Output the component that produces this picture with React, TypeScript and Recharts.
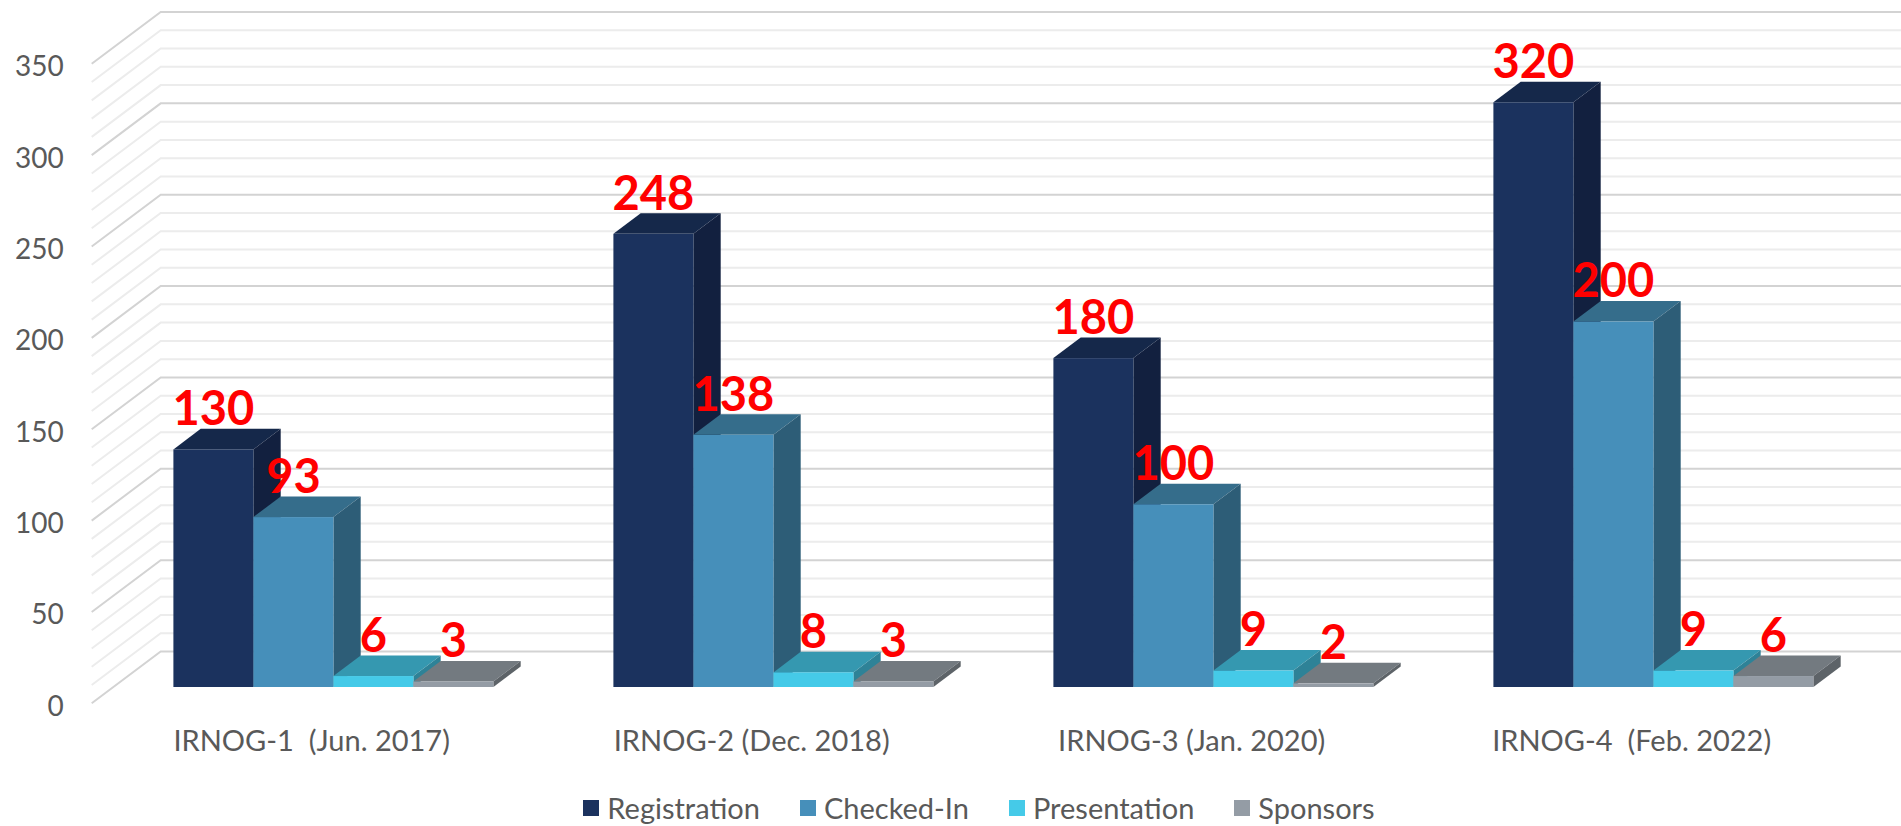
import { Bar, BarChart, CartesianGrid, LabelList, Legend, XAxis, YAxis } from "recharts";

const events = [
  "IRNOG-1  (Jun. 2017)",
  "IRNOG-2 (Dec. 2018)",
  "IRNOG-3 (Jan. 2020)",
  "IRNOG-4  (Feb. 2022)",
];
const registration = [130, 248, 180, 320];
const checkedIn = [93, 138, 100, 200];
const presentation = [6, 8, 9, 9];
const sponsors = [3, 3, 2, 6];

const yTicks = [0, 50, 100, 150, 200, 250, 300, 350];
const minorLines = [
  10, 20, 30, 40, 60, 70, 80, 90, 110, 120, 130, 140, 160, 170, 180, 190, 210, 220, 230,
  240, 260, 270, 280, 290, 310, 320, 330, 340,
];

const SERIES = [
  { key: "registration", name: "Registration", front: "#1b325e", top: "#15284a", side: "#12203f" },
  { key: "checkedIn", name: "Checked-In", front: "#468fba", top: "#356d8b", side: "#2d5d77" },
  { key: "presentation", name: "Presentation", front: "#45cae8", top: "#3598b0", side: "#2e8297" },
  { key: "sponsors", name: "Sponsors", front: "#949ca5", top: "#737a80", side: "#5d6368" },
];

const data = events.map((name, i) => ({
  name,
  registration: registration[i],
  checkedIn: checkedIn[i],
  presentation: presentation[i],
  sponsors: sponsors[i],
}));

const W = 1901;
const H = 826;
const PLOT_LEFT = 113.4;
const FONT = "Lato, 'Liberation Sans', sans-serif";
const TEXT = "#595959";

// oblique "3d" offsets
const BAR_DX = 27.3;
const BAR_DY = 20.6;
const FRONT_DX = -21.7;
const FRONT_DY = 16.3;
const BACK_DX = 47.3;
const BACK_DY = -35.5;

function wallLine(color: string) {
  return (props: any) => {
    const { x1, y1 } = props;
    const d = `M${x1 + FRONT_DX},${y1 + FRONT_DY} L${x1 + BACK_DX},${y1 + BACK_DY} L${W},${y1 + BACK_DY}`;
    return <path key={`wall-${y1}`} d={d} stroke={color} strokeWidth={2} fill="none" />;
  };
}

function Box3D({ x, y, width, height, s }: any) {
  if (height == null || width == null) return null;
  const r = x + width;
  const b = y + height;
  return (
    <g>
      <path d={`M${x},${y} L${x + BAR_DX},${y - BAR_DY} L${r + BAR_DX},${y - BAR_DY} L${r},${y} Z`} fill={s.top} />
      <path d={`M${r},${y} L${r + BAR_DX},${y - BAR_DY} L${r + BAR_DX},${b - BAR_DY} L${r},${b} Z`} fill={s.side} />
      <rect x={x} y={y} width={width} height={height} fill={s.front} />
    </g>
  );
}

function ValueLabel({ x, y, width, value }: any) {
  return (
    <text
      x={x + width / 2}
      y={y - BAR_DY - 3.5}
      textAnchor="middle"
      fill="#ff0000"
      fontSize={47}
      fontWeight={700}
      fontFamily={FONT}
    >
      {value}
    </text>
  );
}

function YTick({ y, payload }: any) {
  return (
    <text
      x={PLOT_LEFT + FRONT_DX - 28}
      y={y + FRONT_DY + 1.5}
      textAnchor="end"
      dominantBaseline="central"
      fill={TEXT}
      fontSize={28}
      fontFamily={FONT}
    >
      {payload.value}
    </text>
  );
}

function XTick({ x, payload }: any) {
  return (
    <text
      x={x + FRONT_DX}
      y={751}
      textAnchor="middle"
      fill={TEXT}
      fontSize={29}
      fontFamily={FONT}
      style={{ whiteSpace: "pre" }}
    >
      {payload.value}
    </text>
  );
}

function LegendRow() {
  return (
    <div
      style={{
        display: "flex",
        justifyContent: "center",
        gap: 40,
        fontFamily: FONT,
        fontSize: 29,
        lineHeight: "35px",
        color: TEXT,
      }}
    >
      {SERIES.map((s) => (
        <div key={s.key} style={{ display: "flex", alignItems: "center", gap: 8 }}>
          <span style={{ width: 16, height: 16, background: s.front, display: "inline-block" }} />
          {s.name}
        </div>
      ))}
    </div>
  );
}

export default function App() {
  return (
    <div style={{ position: "absolute", left: 0, top: 0, width: W, height: H, background: "#fff" }}>
      <BarChart
        width={W}
        height={H}
        data={data}
        margin={{ top: 47.5, right: W - PLOT_LEFT - 1760, bottom: 79, left: 0 }}
        barGap={0}
        barSize={80}
      >
        <CartesianGrid vertical={false} horizontalValues={minorLines} horizontal={wallLine("#ececec")} />
        <CartesianGrid vertical={false} horizontalValues={yTicks} horizontal={wallLine("#d3d3d3")} />
        <XAxis dataKey="name" axisLine={false} tickLine={false} interval={0} height={60} tick={<XTick />} />
        <YAxis
          domain={[0, 350]}
          ticks={yTicks}
          interval={0}
          axisLine={false}
          tickLine={false}
          width={PLOT_LEFT}
          tick={<YTick />}
        />
        <Legend
          layout="horizontal"
          verticalAlign="middle"
          align="center"
          wrapperStyle={{ top: 790, left: 57, width: 1844 }}
          content={<LegendRow />}
        />
        {SERIES.map((s) => (
          <Bar
            key={s.key}
            dataKey={s.key}
            name={s.name}
            fill={s.front}
            isAnimationActive={false}
            shape={(p: any) => <Box3D {...p} s={s} />}
          >
            <LabelList dataKey={s.key} content={<ValueLabel />} />
          </Bar>
        ))}
      </BarChart>
    </div>
  );
}
